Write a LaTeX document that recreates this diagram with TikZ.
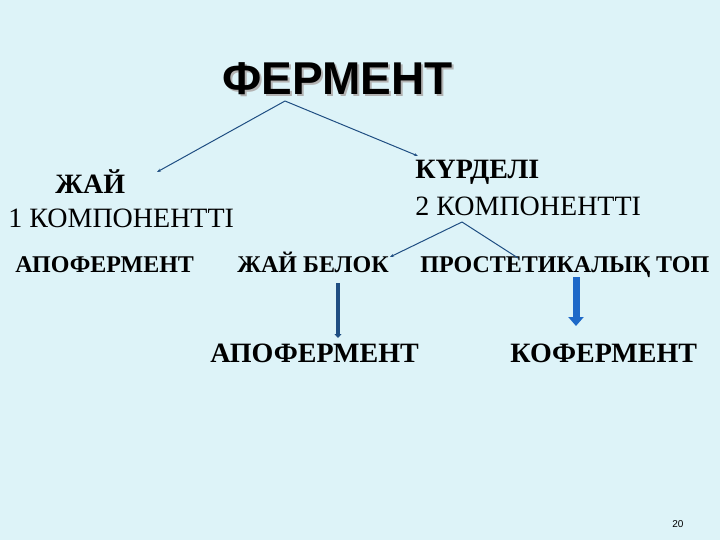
\documentclass[tikz,border=0pt]{standalone}
\usepackage{fontspec}
\setmainfont{Liberation Serif}
\newfontfamily\arialfont{Liberation Sans}
\usetikzlibrary{arrows.meta}
\definecolor{sfondo}{RGB}{221,243,248}
\definecolor{linea}{RGB}{31,78,130}
\definecolor{freccia}{RGB}{30,105,200}

\begin{document}
\begin{tikzpicture}[x=1pt, y=-1pt, thick, main/.style = {inner sep=0pt, anchor=base west, font=\bfseries\fontsize{24}{26}\selectfont}, big/.style = {inner sep=0pt, anchor=base west, font=\bfseries\fontsize{28}{30}\selectfont}, ramo/.style = {draw=linea, line width=1pt, -{Stealth[length=4pt,width=3pt]}}]
    \fill[sfondo] (0,0) rectangle (720,540);
    % Disegna i nodi
    \node[inner sep=0pt, anchor=base west, text=black!30, font=\arialfont\bfseries\fontsize{46}{48}\selectfont] (0s) at (224,97) {ФЕРМЕНТ};
    \node[inner sep=0pt, anchor=base west, font=\arialfont\bfseries\fontsize{46}{48}\selectfont] (0) at (222,95) {ФЕРМЕНТ};
    \node[big] (1) at (55,194) {ЖАЙ};
    \node[big, font=\fontsize{28}{30}\selectfont] (1b) at (8,227) {1 КОМПОНЕНТТІ};
    \node[big] (2) at (415,179) {КҮРДЕЛІ};
    \node[big, font=\fontsize{28}{30}\selectfont] (2b) at (415,215) {2 КОМПОНЕНТТІ};
    \node[main] (3) at (15,272) {АПОФЕРМЕНТ};
    \node[main] (4) at (237,272) {ЖАЙ БЕЛОК};
    \node[main] (5) at (420,272) {ПРОСТЕТИКАЛЫҚ ТОП};
    \node[big] (6) at (210,362) {АПОФЕРМЕНТ};
    \node[big] (7) at (510,362) {КОФЕРМЕНТ};
    \node[inner sep=0pt, anchor=base west, font=\arialfont\fontsize{10}{12}\selectfont] (8) at (672,527) {20};

    \coordinate (r0) at (285,101);
    \coordinate (r1) at (157,172);
    \coordinate (r2) at (418,156);
    \coordinate (s0) at (462,222);
    \coordinate (s1) at (390,257);
    \coordinate (s2) at (518,258);

    \draw[ramo] (r0) to (r1);
    \draw[ramo] (r0) to (r2);
    \draw[ramo] (s0) to (s1);
    \draw[draw=linea, line width=1pt] (s0) to (s2);

    \coordinate (f1) at (338,283);
    \coordinate (f2) at (338,338);
    \coordinate (f3) at (576,277);
    \coordinate (f4) at (576,326);
    \draw[draw=linea, line width=3.5pt, -{Triangle[length=4pt,width=7pt]}] (f1) to (f2);
    \draw[draw=freccia, line width=7pt, -{Triangle[length=9pt,width=15pt]}] (f3) to (f4);
\end{tikzpicture}
\end{document}
